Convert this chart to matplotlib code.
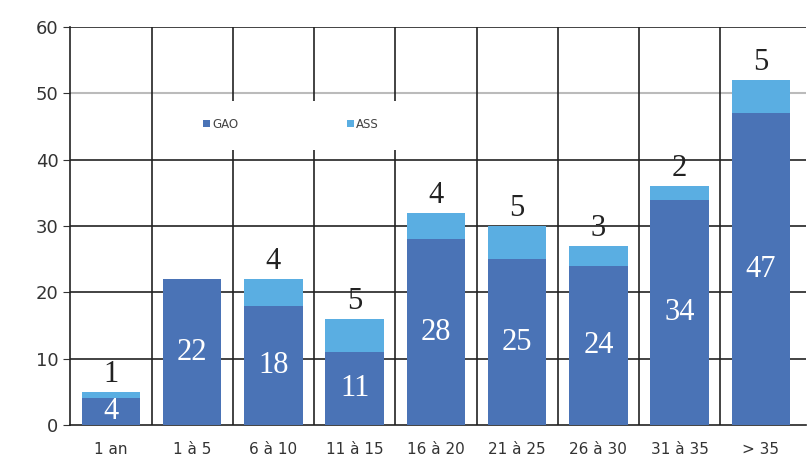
import matplotlib
matplotlib.use('Agg')
import matplotlib.pyplot as plt
from matplotlib.patches import Rectangle
import numpy as np

categories = ['1 an', '1 à 5', '6 à 10', '11 à 15', '16 à 20', '21 à 25', '26 à 30', '31 à 35', '> 35']
gao = [4, 22, 18, 11, 28, 25, 24, 34, 47]
ass = [1, 0, 4, 5, 4, 5, 3, 2, 5]

c_gao = '#4a73b6'
c_ass = '#5aaee2'

fig = plt.figure(figsize=(8.08, 4.67), dpi=100)
ax = fig.add_axes([0.087, 0.09, 0.91, 0.852])

x = np.arange(len(categories))
ax.bar(x, gao, width=0.72, color=c_gao, label='GAO', zorder=3)
ax.bar(x, ass, width=0.72, bottom=gao, color=c_ass, label='ASS', zorder=3)

ax.set_xlim(-0.5, len(categories) - 0.45)
ax.set_ylim(0, 60)

# grid: horizontal lines, the 50 one lighter
for v in [10, 20, 30, 40, 60]:
    ax.axhline(v, color='#222222', lw=1.2, zorder=1)
ax.axhline(50, color='#bbbbbb', lw=1.5, zorder=1)
for b in np.arange(0.5, len(categories) - 0.5, 1):
    ax.axvline(b, color='#222222', lw=1.2, zorder=1)

for s in ['top', 'right']:
    ax.spines[s].set_visible(False)
ax.spines['left'].set_color('#222222')
ax.spines['bottom'].set_color('#222222')
ax.spines['left'].set_linewidth(1.2)
ax.spines['bottom'].set_linewidth(1.2)

ax.set_yticks(range(0, 61, 10))
ax.set_xticks(x)
ax.set_xticklabels(categories, family=['Liberation Sans Narrow', 'DejaVu Sans'], fontsize=11, color='#333333')
ax.tick_params(axis='y', labelsize=13, colors='#333333', length=5)
ax.tick_params(axis='x', length=0, pad=12)

serif = ['Liberation Serif', 'DejaVu Serif']
for i in range(len(categories)):
    ax.text(x[i], gao[i] / 2, str(gao[i]), ha='center', va='center',
            color='white', fontsize=22, family=serif, zorder=4)
    if ass[i] > 0:
        ax.annotate(str(ass[i]), (x[i], gao[i] + ass[i]), xytext=(0, 2),
                    textcoords='offset points', ha='center', va='bottom',
                    fontsize=22, family=serif, color='#222222', zorder=4)

# white box behind the legend, hiding the grid there
ax.add_patch(Rectangle((0.144, 0.69), 0.32, 0.125, transform=ax.transAxes,
                       facecolor='white', edgecolor='none', zorder=2))
ax.legend(loc='center left', bbox_to_anchor=(0.18, 0.756), ncol=2, frameon=False,
          fontsize=8.5, handlelength=0.6, handleheight=0.6, columnspacing=9.2,
          handletextpad=0.2, borderpad=0, borderaxespad=0, labelcolor='#444444')

fig.savefig('out.png', dpi=100)
